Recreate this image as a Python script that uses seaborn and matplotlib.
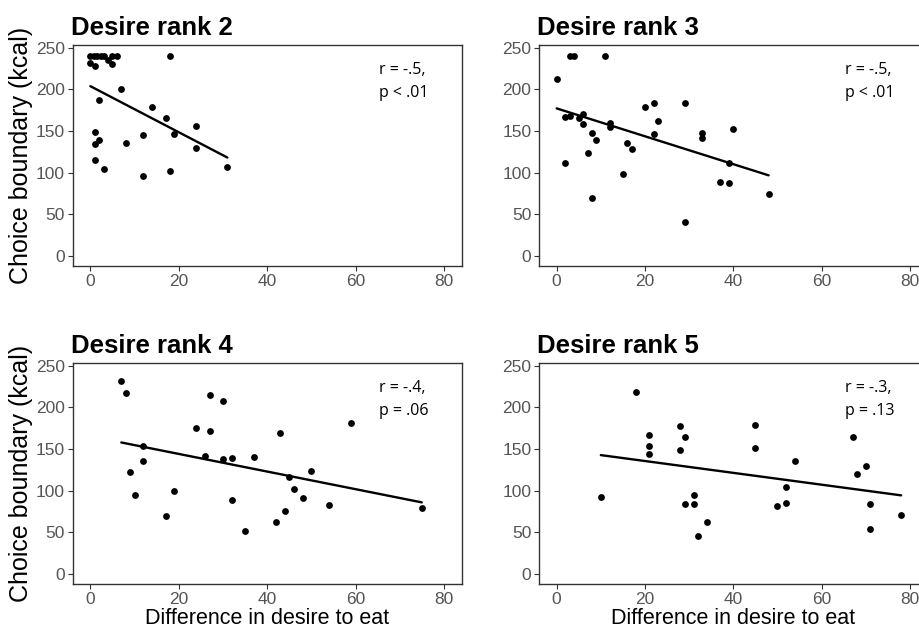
import numpy as np
import pandas as pd
import matplotlib
matplotlib.use("Agg")
import matplotlib.pyplot as plt
import seaborn as sns

# ---- data ----
rank2_x = [0, 0.8, 1.5, 2.3, 3, 5, 6, 18, 0, 1, 4, 5, 7, 2, 14, 17, 1, 2, 1, 8, 12, 19, 24, 24, 1, 3, 12, 18, 31]
rank2_y = [240, 240, 240, 240, 240, 240, 240, 240, 232, 228, 235, 230, 200, 187, 179, 165, 149, 139, 134, 136, 145, 146, 156, 130, 115, 104, 96, 102, 107]

rank3_x = [0, 3, 4, 11, 2, 3, 5, 6, 6, 8, 9, 7, 2, 8, 12, 12, 15, 16, 17, 20, 22, 23, 22, 29, 29, 33, 33, 40, 37, 39, 39, 48]
rank3_y = [212, 240, 240, 240, 167, 168, 165, 170, 158, 147, 139, 124, 112, 69, 160, 155, 98, 136, 128, 179, 184, 162, 146, 183, 41, 148, 142, 152, 89, 87, 112, 74]

rank4_x = [7, 8, 12, 12, 9, 10, 19, 17, 24, 27, 27, 26, 30, 30, 32, 32, 35, 37, 42, 43, 44, 45, 46, 48, 50, 54, 59, 75]
rank4_y = [231, 217, 153, 136, 122, 95, 99, 70, 175, 215, 171, 141, 208, 138, 139, 89, 51, 140, 62, 169, 75, 116, 102, 91, 124, 83, 181, 79]

rank5_x = [10, 18, 21, 21, 21, 28, 29, 28, 31, 29, 31, 34, 32, 45, 45, 54, 52, 52, 50, 67, 70, 68, 71, 71, 78]
rank5_y = [92, 218, 167, 153, 144, 177, 164, 149, 95, 84, 84, 62, 45, 179, 151, 135, 104, 85, 81, 164, 130, 120, 84, 54, 71]

titles = ["Desire rank 2", "Desire rank 3", "Desire rank 4", "Desire rank 5"]
stats = ["r = -.5,\np < .01", "r = -.5,\np < .01", "r = -.4,\np = .06", "r = -.3,\np = .13"]
xs = [rank2_x, rank3_x, rank4_x, rank5_x]
ys = [rank2_y, rank3_y, rank4_y, rank5_y]
x_ticks = [0, 20, 40, 60, 80]
y_ticks = [0, 50, 100, 150, 200, 250]
xlabel = "Difference in desire to eat"
ylabel = "Choice boundary (kcal)"

sns.set_style("white")
plt.rcParams['font.family'] = ['Liberation Sans', 'DejaVu Sans']

W, H = 919, 633
fig = plt.figure(figsize=(W / 100, H / 100), dpi=100)

# axes boxes in pixels: left, right, top, bottom
boxes = [(72.7, 461.6, 45, 266), (539, 927.6, 45, 266),
         (72.7, 461.6, 363, 584), (539, 927.6, 363, 584)]

tick_col = "#555555"
for i, (l, r, t, b) in enumerate(boxes):
    ax = fig.add_axes([l / W, 1 - b / H, (r - l) / W, (b - t) / H])
    df = pd.DataFrame({"x": xs[i], "y": ys[i]})
    sns.regplot(data=df, x="x", y="y", ax=ax, ci=None, truncate=True,
                scatter_kws=dict(s=24, color="black", linewidths=0, alpha=1),
                line_kws=dict(color="black", lw=1.7))
    ax.set_xlim(-4, 84)
    ax.set_ylim(-12, 253)
    ax.set_xticks(x_ticks)
    ax.set_yticks(y_ticks)
    ax.tick_params(axis="both", direction="out", length=3.5, width=0.8,
                   color="#333333", labelcolor=tick_col, labelsize=12.5, pad=2,
                   left=True, bottom=True)
    for s in ax.spines.values():
        s.set_color("#333333")
        s.set_linewidth(1.0)
    ax.set_title(titles[i], loc="left", fontsize=18.5, fontweight="bold", pad=7,
                 x=-0.005, color="black")
    ax.text(65.2, 232.5, stats[i], fontsize=11.5, family=["Open Sans", "DejaVu Sans"],
            va="top", ha="left", linespacing=1.6, color="black")
    if i % 2 == 0:
        ax.set_ylabel(ylabel, fontsize=18, labelpad=2, color="black")
    else:
        ax.set_ylabel("")
    if i >= 2:
        ax.set_xlabel(xlabel, fontsize=15.5, labelpad=1, color="black")
    else:
        ax.set_xlabel("")

fig.savefig("out.png", dpi=100)
